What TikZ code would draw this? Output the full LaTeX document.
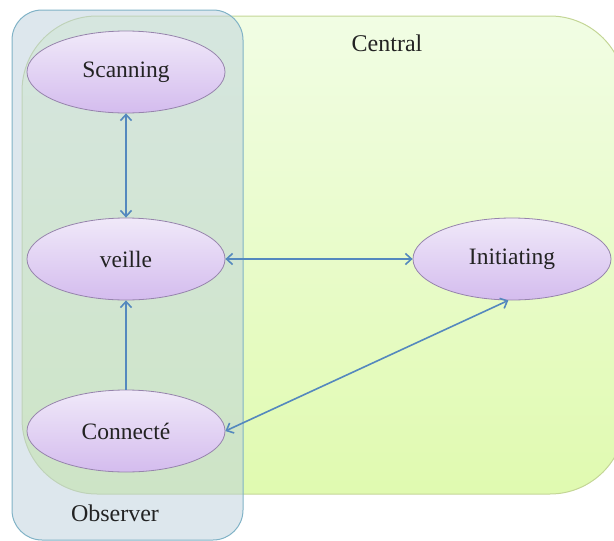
\documentclass[tikz,border=0pt]{standalone}
\usepackage{fontspec}
\setmainfont{Liberation Serif}
\usepackage{tikz}
\usetikzlibrary{arrows.meta,positioning,shapes.geometric}
\definecolor{linkblue}{RGB}{84,136,190}
\definecolor{modeline}{RGB}{150,132,172}
\definecolor{modetop}{RGB}{240,233,249}
\definecolor{modebot}{RGB}{212,188,238}
\definecolor{centraltop}{RGB}{241,253,228}
\definecolor{centralbot}{RGB}{224,250,176}
\definecolor{centralline}{RGB}{196,214,150}
\definecolor{observerfill}{RGB}{188,208,220}
\definecolor{observerline}{RGB}{128,178,198}
\definecolor{labeltext}{RGB}{35,35,35}

\begin{document}
\begin{tikzpicture}[x=1pt,y=-1pt,node distance=187pt,on grid,
   mode/.style={ellipse,draw=modeline,line width=0.8pt,top color=modetop,
      bottom color=modebot,minimum width=198pt,minimum height=82pt,
      text=labeltext,font=\fontsize{23.5}{27}\selectfont},
   zonetext/.style={text=labeltext,font=\fontsize{24}{28}\selectfont},
   link/.style={draw=linkblue,line width=1.6pt,
      -{Straight Barb[length=6pt,width=11pt]}},
   duallink/.style={link,{Straight Barb[length=6pt,width=11pt]}-{Straight Barb[length=6pt,width=11pt]}}]
   \useasboundingbox (0,0) rectangle (614,541);
   \clip (0,0) rectangle (614,541);

   % zones
   \path[draw=centralline,line width=1pt,top color=centraltop,bottom color=centralbot,
      rounded corners=75pt] (22,16) rectangle (625,494);
   \path[draw=observerline,line width=1pt,fill=observerfill,fill opacity=0.5,
      rounded corners=30pt] (12,10) rectangle (243,540);
   \node[zonetext] (central) at (387,43) {Central};
   \node[zonetext] (observer) at (115,513) {Observer};

   % modes
   \node[mode] (scan) at (126,72) {Scanning};
   \node[mode] (veille) [below=of scan] {veille};
   \node[mode] (conn) [below=172pt of veille] {Connecté};
   \node[mode] (init) [right=386pt of veille] {Initiating};

   \path[duallink] (scan) -- (veille);
   \path[duallink] (veille) -- (init);
   \path[link] (conn) -- (veille);
   \path[duallink] (conn.east) -- (init.-95);
\end{tikzpicture}
\end{document}
